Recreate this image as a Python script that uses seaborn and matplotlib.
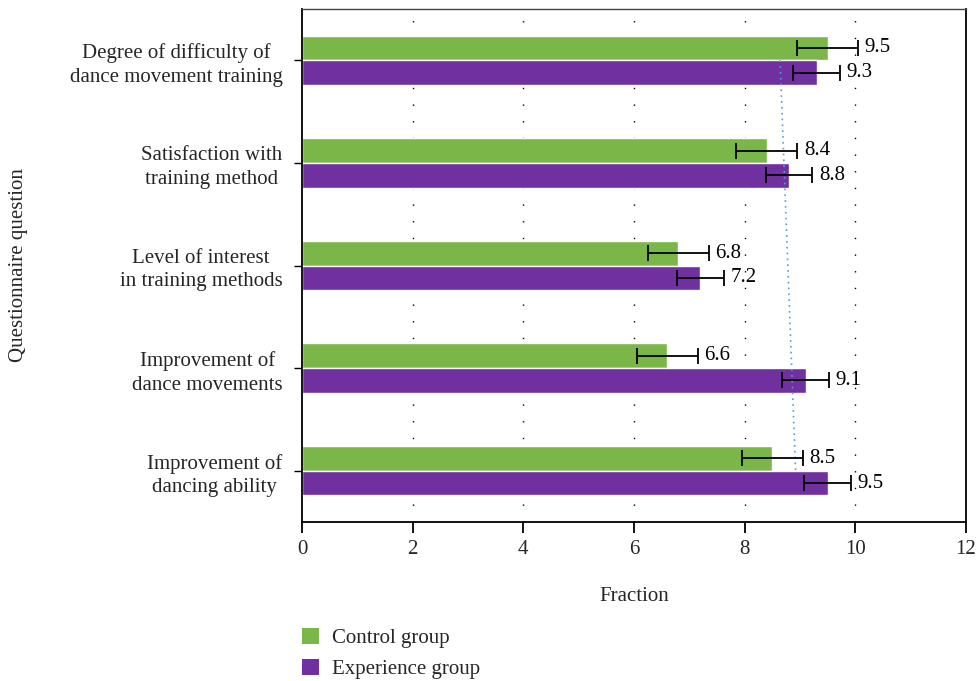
import numpy as np
import pandas as pd
import matplotlib
matplotlib.use("Agg")
import matplotlib.pyplot as plt
import seaborn as sns
from matplotlib.patches import Patch

questions = [
    "Degree of difficulty of\ndance movement training",
    "Satisfaction with\ntraining method",
    "Level of interest\nin training methods",
    "Improvement of\ndance movements",
    "Improvement of\ndancing ability",
]
groups = ["Control group", "Experience group"]
control_scores = [9.5, 8.4, 6.8, 6.6, 8.5]
experience_scores = [9.3, 8.8, 7.2, 9.1, 9.5]
control_err = [0.55, 0.55, 0.55, 0.55, 0.55]
experience_err = [0.42, 0.42, 0.42, 0.42, 0.42]
x_ticks = [0, 2, 4, 6, 8, 10, 12]

colors = {"Control group": "#7AB648", "Experience group": "#7030A0"}
FS = 15

df = pd.DataFrame({
    "question": questions * 2,
    "group": [groups[0]] * 5 + [groups[1]] * 5,
    "score": control_scores + experience_scores,
    "err": control_err + experience_err,
})

sns.set_theme(style="white")
plt.rcParams["font.family"] = ["Liberation Serif", "DejaVu Serif"]

fig = plt.figure(figsize=(9.79, 6.81), dpi=100)
ax = fig.add_axes([302 / 979, 1 - 522 / 681, (966 - 302) / 979, (522 - 9) / 681])

sns.barplot(data=df, x="score", y="question", hue="group", orient="h",
            palette=colors, width=0.48, errorbar=None, legend=False,
            saturation=1, ax=ax, zorder=2)

# error bars and value labels, placed at the centre of each dodged bar
for patch_group, errs, scores in [
    (ax.patches[:5], control_err, control_scores),
    (ax.patches[5:10], experience_err, experience_scores),
]:
    for p, e, v in zip(patch_group, errs, scores):
        yc = p.get_y() + p.get_height() / 2
        ax.errorbar(v, yc, xerr=e, fmt="none", ecolor="black",
                    elinewidth=1.3, capsize=5.5, capthick=1.3, zorder=4)
        ax.text(v + e + 0.12, yc, f"{v:.1f}", va="center", ha="left",
                fontsize=FS, color="black", zorder=5)

# linear trend of the experience group across questions
pos = np.arange(len(questions))
slope, intercept = np.polyfit(pos, experience_scores, 1)
ax.plot(intercept + slope * pos[[0, -1]], pos[[0, -1]], linestyle=(0, (1, 2.5)),
        color="#5B9BD5", linewidth=1.2, zorder=3)

ax.set_xlim(0, 12)
ax.set_ylim(4.5, -0.5)
ax.set_xticks(x_ticks)
ax.set_xticklabels([str(t) for t in x_ticks], fontsize=FS)
ax.tick_params(axis="y", labelsize=FS, length=6, width=1, left=True, pad=8,
               direction="out", color="black")
ax.tick_params(axis="x", length=8, width=1.3, bottom=True, pad=5,
               direction="out", color="black")
for lbl in ax.get_yticklabels():
    lbl.set_multialignment("center")
    lbl.set_linespacing(1.32)

for t in x_ticks[1:-1]:
    ax.axvline(t, color="black", linestyle=(0, (1, 11)), linewidth=1.0, zorder=1)

for side in ["left", "bottom", "right"]:
    ax.spines[side].set_color("black")
    ax.spines[side].set_linewidth(1.3)
ax.spines["top"].set_color("#444444")
ax.spines["top"].set_linewidth(1.0)

ax.set_xlabel("Fraction", fontsize=FS, labelpad=20)
ax.set_ylabel("")
fig.text(19 / 979, 1 - 265 / 681, "Questionnaire question", rotation=90,
         ha="center", va="center", fontsize=FS)

handles = [Patch(facecolor=colors[g], edgecolor="none") for g in groups]
fig.legend(handles, groups, loc="upper left", bbox_to_anchor=(302 / 979, 1 - 628 / 681),
           frameon=False, fontsize=FS, handlelength=0.8, handleheight=0.8,
           handletextpad=0.65, labelspacing=0.5, borderpad=0, borderaxespad=0)

fig.savefig("out.png", dpi=100)
